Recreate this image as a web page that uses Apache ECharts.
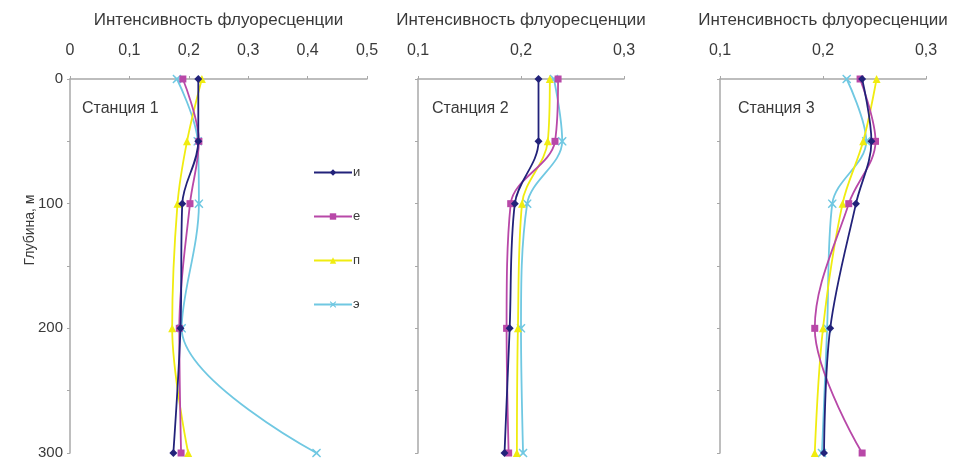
<!DOCTYPE html>
<html>
<head>
<meta charset="utf-8">
<script src="https://cdn.jsdelivr.net/npm/echarts@6/dist/echarts.min.js"></script>
<style>
  html, body { margin: 0; padding: 0; background: #fff; }
  #chart { width: 957px; height: 461px; }
</style>
</head>
<body>
<div id="chart"></div>
<script>
// глубины, м
var depths = [0, 50, 100, 200, 300];

// серии: и, е, п, э
var names = ['и', 'е', 'п', 'э'];

// Станция 1
var st1_i = [0.216, 0.216, 0.189, 0.186, 0.174];
var st1_e = [0.190, 0.217, 0.202, 0.184, 0.187];
var st1_p = [0.222, 0.197, 0.181, 0.172, 0.199];
var st1_z = [0.180, 0.215, 0.217, 0.188, 0.415];

// Станция 2
var st2_i = [0.217, 0.217, 0.194, 0.189, 0.184];
var st2_e = [0.236, 0.233, 0.190, 0.186, 0.188];
var st2_p = [0.228, 0.226, 0.201, 0.197, 0.196];
var st2_z = [0.232, 0.240, 0.206, 0.200, 0.202];

// Станция 3
var st3_i = [0.238, 0.247, 0.232, 0.207, 0.201];
var st3_e = [0.236, 0.251, 0.225, 0.192, 0.238];
var st3_p = [0.252, 0.239, 0.219, 0.200, 0.192];
var st3_z = [0.223, 0.242, 0.209, 0.204, 0.199];

var stations = ['Станция 1', 'Станция 2', 'Станция 3'];
var xTitle = 'Интенсивность флуоресценции';
var yTitle = 'Глубина, м';

var chart = echarts.init(document.getElementById('chart'));

var colors = ['#22227a', '#b848a8', '#f0ec10', '#70c8e2'];
var crossPath = 'path://M1,0 L5,3.6 L9,0 L10,1 L6.4,5 L10,9 L9,10 L5,6.4 L1,10 L0,9 L3.6,5 L0,1 Z';
var symbols = ['diamond', 'rect', 'triangle', crossPath];
var sizes = [8, 7, 8, 9];

function pairs(vals) {
	var out = [];
	for (var i = 0; i < vals.length; i++) {
		out.push([vals[i], depths[i]]);
	}
	return out;
}

var allData = [
	[st1_i, st1_e, st1_p, st1_z],
	[st2_i, st2_e, st2_p, st2_z],
	[st3_i, st3_e, st3_p, st3_z]
];

var grids = [
	{ left: 70, width: 297, top: 79, height: 374 },
	{ left: 418, width: 206, top: 79, height: 374 },
	{ left: 720, width: 206, top: 79, height: 374 }
];
var xRanges = [[0, 0.5], [0.1, 0.3], [0.1, 0.3]];

var axisColor = '#a8a8a8';
var textColor = '#3a3a3a';
var font = 'Liberation Sans';

var xAxes = [], yAxes = [], series = [];
for (var g = 0; g < 3; g++) {
	xAxes.push({
		gridIndex: g,
		type: 'value',
		position: 'top',
		min: xRanges[g][0],
		max: xRanges[g][1],
		interval: 0.1,
		name: xTitle,
		nameLocation: 'middle',
		nameGap: 50,
		nameTextStyle: { fontFamily: font, fontSize: 17, color: textColor },
		axisLine: { show: true, lineStyle: { color: axisColor, width: 1.5 } },
		axisTick: { show: true, length: 3, lineStyle: { color: axisColor } },
		axisLabel: {
			margin: 20,
			fontFamily: font, fontSize: 16, color: textColor,
			formatter: function (v) { return String(Math.round(v * 10) / 10).replace('.', ','); }
		},
		splitLine: { show: false }
	});
	yAxes.push({
		gridIndex: g,
		type: 'value',
		inverse: true,
		min: 0,
		max: 300,
		interval: 50,
		axisLine: { show: true, lineStyle: { color: axisColor, width: 1.5 } },
		axisTick: { show: true, length: 3, lineStyle: { color: axisColor } },
		axisLabel: {
			show: g === 0,
			margin: 7,
			fontFamily: font, fontSize: 15, color: textColor,
			formatter: function (v) { return v % 100 === 0 ? String(v) : ''; }
		},
		splitLine: { show: false }
	});
	for (var s = 0; s < 4; s++) {
		series.push({
			name: names[s],
			type: 'line',
			xAxisIndex: g,
			yAxisIndex: g,
			data: pairs(allData[g][s]),
			smooth: 0.35,
			symbol: symbols[s],
			symbolSize: sizes[s],
			clip: false,
			z: s === 0 ? 6 : 5 - s,
			itemStyle: { color: colors[s] },
			lineStyle: { color: colors[s], width: 1.8 }
		});
	}
}

var option = {
	animation: false,
	color: colors,
	grid: grids,
	xAxis: xAxes,
	yAxis: yAxes,
	legend: {
		data: names,
		orient: 'vertical',
		left: 308,
		top: 161,
		itemWidth: 38,
		itemHeight: 8,
		itemGap: 31,
		textStyle: { fontFamily: font, fontSize: 13, color: textColor, padding: [0, 0, 0, -4] }
	},
	graphic: [
		{ type: 'text', left: 82, top: 101, style: { text: stations[0], font: '16px Liberation Sans', fill: textColor } },
		{ type: 'text', left: 432, top: 101, style: { text: stations[1], font: '16px Liberation Sans', fill: textColor } },
		{ type: 'text', left: 738, top: 101, style: { text: stations[2], font: '16px Liberation Sans', fill: textColor } },
		{ type: 'text', x: 30, y: 230, rotation: Math.PI / 2,
		  style: { text: yTitle, font: '14px Liberation Sans', fill: textColor, align: 'center', verticalAlign: 'middle' } }
	],
	series: series
};

chart.setOption(option);
</script>
</body>
</html>
